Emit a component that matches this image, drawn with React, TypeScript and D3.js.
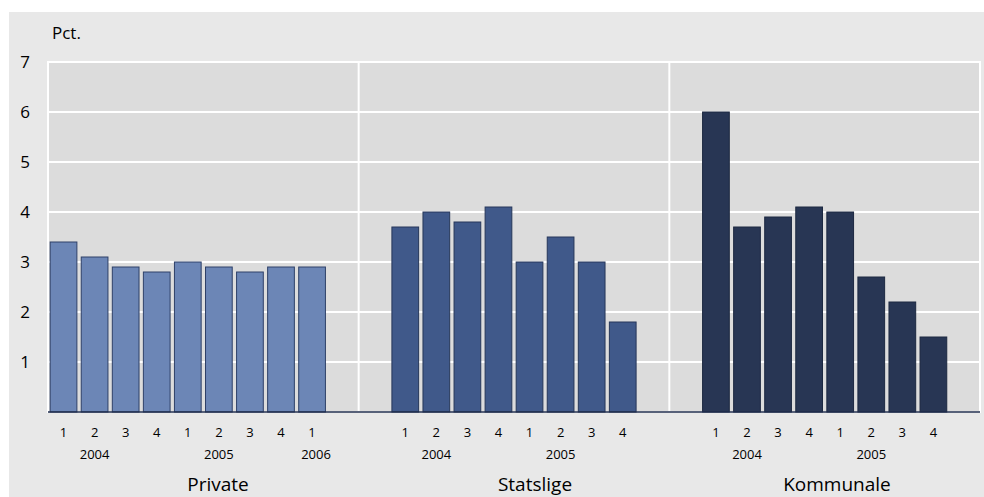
import React from "react";
import * as d3 from "d3";

const panels = ["Private", "Statslige", "Kommunale"];
const quarters = [
  ["1", "2", "3", "4", "1", "2", "3", "4", "1"],
  ["1", "2", "3", "4", "1", "2", "3", "4"],
  ["1", "2", "3", "4", "1", "2", "3", "4"],
];
const values = [
  [3.4, 3.1, 2.9, 2.8, 3.0, 2.9, 2.8, 2.9, 2.9],
  [3.7, 4.0, 3.8, 4.1, 3.0, 3.5, 3.0, 1.8],
  [6.0, 3.7, 3.9, 4.1, 4.0, 2.7, 2.2, 1.5],
];
// year labels: [year, index of quarter under which it sits]
const years: [string, number][][] = [
  [["2004", 1], ["2005", 5], ["2006", 8]],
  [["2004", 1], ["2005", 5]],
  [["2004", 1], ["2005", 5]],
];
const yTicks = [1, 2, 3, 4, 5, 6, 7];
const fills = ["#6c86b6", "#40598a", "#283654"];
const strokes = ["#2e4068", "#26375a", "#1c2840"];
const slotOffset = [0, 1, 1];

const W = 984;
const H = 497;
const left = 48;
const right = 980;
const top = 62;
const bottom = 412;
const font = "'Open Sans', 'Noto Sans', sans-serif";

export default function App() {
  const y = d3.scaleLinear().domain([0, 7]).range([bottom, top]);
  const slots = d3.range(30).map(String);
  const x = d3.scaleBand().domain(slots).range([left, right]).paddingInner(0.14).paddingOuter(0.07);
  const panelW = (right - left) / 3;
  const titleX = [218, 535, 837];

  return (
    <svg width={W} height={H} style={{ position: "absolute", left: 0, top: 0, fontFamily: font }}>
      <rect x={0} y={0} width={W} height={H} fill="#ffffff" />
      <rect x={9} y={12} width={W - 9} height={H - 12} fill="#e8e8e8" />
      <rect x={left} y={top} width={right - left} height={bottom - top} fill="#dcdcdc" stroke="#ffffff" strokeWidth={2} />
      {yTicks.map((t) => (
        <line key={"g" + t} x1={left} x2={right} y1={y(t)} y2={y(t)} stroke="#ffffff" strokeWidth={2} />
      ))}
      {[1, 2].map((i) => (
        <line key={"v" + i} x1={left + panelW * i} x2={left + panelW * i} y1={top} y2={bottom} stroke="#ffffff" strokeWidth={2} />
      ))}
      {yTicks.map((t) => (
        <text key={"t" + t} x={25} y={y(t)} dy="0.36em" textAnchor="middle" fontSize={17} fill="#000">
          {t}
        </text>
      ))}
      <text x={52} y={39} fontSize={17} fill="#000">Pct.</text>
      {values.map((vals, p) =>
        vals.map((v, i) => {
          const s = String(p * 10 + slotOffset[p] + i);
          const bx = x(s) as number;
          return (
            <rect
              key={"b" + p + "-" + i}
              x={bx}
              y={y(v)}
              width={x.bandwidth()}
              height={bottom - y(v)}
              fill={fills[p]}
              stroke={strokes[p]}
              strokeWidth={1}
            />
          );
        })
      )}
      <line x1={left} x2={right} y1={bottom} y2={bottom} stroke="#1f2d4d" strokeWidth={1.5} />
      {quarters.map((qs, p) =>
        qs.map((q, i) => {
          const s = String(p * 10 + slotOffset[p] + i);
          return (
            <text key={"q" + p + "-" + i} x={(x(s) as number) + x.bandwidth() / 2} y={437} textAnchor="middle" fontSize={13} fill="#000">
              {q}
            </text>
          );
        })
      )}
      {years.map((ys, p) =>
        ys.map(([yr, i]) => {
          const s = String(p * 10 + slotOffset[p] + i);
          const cx = (x(s) as number) + x.bandwidth() / 2 + (yr === "2006" ? 4 : 0);
          return (
            <text key={"y" + p + yr} x={cx} y={459} textAnchor="middle" fontSize={13} fill="#000">
              {yr}
            </text>
          );
        })
      )}
      {panels.map((name, p) => (
        <text key={"p" + p} x={titleX[p]} y={491} textAnchor="middle" fontSize={19} fill="#000">
          {name}
        </text>
      ))}
    </svg>
  );
}
